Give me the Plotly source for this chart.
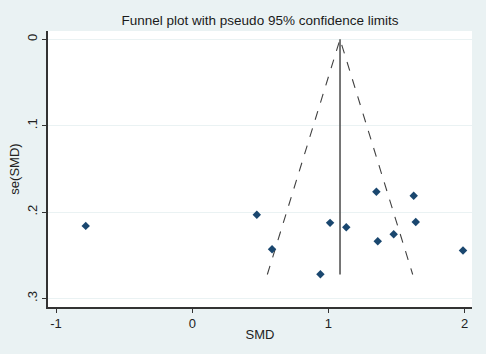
import plotly.graph_objects as go

# Data
smd = [-0.782, 0.474, 0.586, 0.941, 1.012, 1.131, 1.352, 1.362, 1.479, 1.626, 1.641, 1.988]
se = [0.216, 0.203, 0.243, 0.272, 0.2125, 0.2175, 0.1766, 0.2337, 0.2256, 0.1812, 0.2114, 0.2445]
pooled = 1.085
se_max = 0.2723
x_ticks = [-1, 0, 1, 2]
y_ticks = [0, 0.1, 0.2, 0.3]
y_tick_text = ["0", ".1", ".2", ".3"]

z = 1.96
fig = go.Figure()
# funnel limits
fig.add_trace(go.Scatter(x=[pooled - z * se_max, pooled, pooled + z * se_max],
                         y=[se_max, 0, se_max], mode="lines",
                         line=dict(color="#404040", width=1.1, dash="dash"),
                         showlegend=False, hoverinfo="skip"))
# pooled line
fig.add_trace(go.Scatter(x=[pooled, pooled], y=[0, se_max], mode="lines",
                         line=dict(color="#555555", width=1.6),
                         showlegend=False, hoverinfo="skip"))
fig.add_trace(go.Scatter(x=smd, y=se, mode="markers",
                         marker=dict(symbol="diamond", size=6.5, color="#1a476f"),
                         showlegend=False))

font = "Arial, Liberation Sans, sans-serif"
fig.update_layout(
    width=486, height=354,
    margin=dict(l=48, r=14, t=31, b=47),
    paper_bgcolor="#eaf2f3", plot_bgcolor="#ffffff",
    font=dict(family=font, size=13, color="#222222"),
    title=dict(text="Funnel plot with pseudo 95% confidence limits",
               x=0.535, xanchor="center", y=0.943, yanchor="middle",
               automargin=False,
               font=dict(size=13.5, color="#1a1a1a")),
)
fig.update_xaxes(range=[-1.059, 2.054], tickvals=x_ticks,
                 ticktext=[str(v) for v in x_ticks],
                 showgrid=False, zeroline=False, automargin=False,
                 showline=True, linecolor="#333333", linewidth=1.5,
                 ticks="outside", ticklen=4, tickcolor="#333333",
                 title=dict(text="SMD", standoff=0, font=dict(size=13)))
fig.update_yaxes(range=[0.3099, -0.0096], tickvals=y_ticks, ticktext=y_tick_text,
                 tickangle=-90, automargin=False,
                 showgrid=True, gridcolor="#eaf2f3", gridwidth=1, zeroline=False,
                 showline=True, linecolor="#333333", linewidth=1.5,
                 ticks="outside", ticklen=4, tickcolor="#333333",
                 title=dict(text="se(SMD)", standoff=2, font=dict(size=13)))

fig.write_html("out.html",
               config={"displayModeBar": False},
               post_script="document.body.style.margin='0';document.body.style.background='#eaf2f3';")
